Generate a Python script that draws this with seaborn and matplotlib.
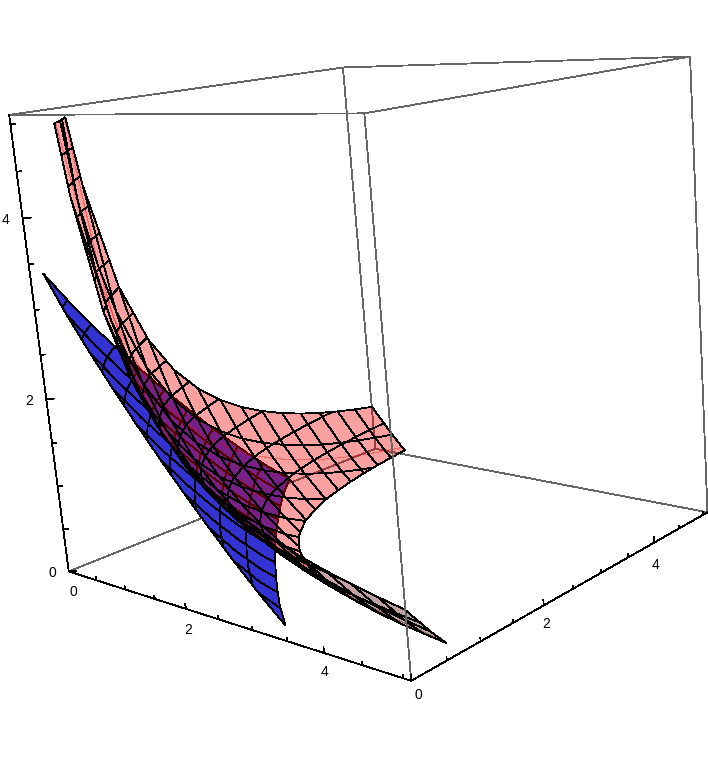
import numpy as np
import matplotlib
matplotlib.use("Agg")
import matplotlib.pyplot as plt
from mpl_toolkits.mplot3d import art3d
import seaborn as sns

sns.set_theme(style="white")
plt.rcParams['font.family'] = ['Liberation Sans', 'DejaVu Sans']

box_max = 5.1
tick_values = [0, 0.5, 1, 1.5, 2, 2.5, 3, 3.5, 4, 4.5, 5]
tick_labels = ['0', '2', '4']
mesh_levels = [0.1, 0.427, 0.753, 1.08, 1.41, 1.73, 2.06, 2.39, 2.71, 3.04, 3.37, 3.69, 4.02, 4.35, 4.67, 5.0]

# outer sheet (pink); negative entries lie under the floor and get cut off
pink_axis = [0.1, 0.427, 0.59, 0.753, 1.08, 1.41, 1.73, 2.06, 2.39, 2.71, 3.04, 3.37, 3.69, 4.02, 4.35, 4.67, 5.0]
pink_height = [
    [18.45, 6.94, 5.277, 4.25, 3.044, 2.357, 1.927, 1.618, 1.39, 1.22, 1.082, .969, .879, .80, .734, .678, .627],
    [6.94, 4.119, 3.39, 2.863, 2.149, 1.686, 1.373, 1.134, .951, .811, .693, .595, .516, .446, .386, .335, .288],
    [5.277, 3.39, 2.841, 2.424, 1.834, 1.434, 1.155, .938, .768, .637, .525, .432, .356, .288, .229, .18, .134],
    [4.25, 2.863, 2.424, 2.08, 1.575, 1.22, .965, .764, .605, .479, .372, .282, .207, .141, .083, .034, -.011],
    [3.044, 2.149, 1.834, 1.575, 1.173, .874, .652, .47, .322, .204, .101, .013, -.06, -.126, -.184, -.234, -.28],
    [2.357, 1.686, 1.434, 1.22, .874, .607, .402, .229, .087, -.029, -.132, -.22, -.295, -.362, -.423, -.475, -.523],
    [1.927, 1.373, 1.155, .965, .652, .402, .204, .036, -.106, -.223, -.327, -.418, -.495, -.566, -.629, -.684, -.736],
    [1.618, 1.134, .938, .764, .47, .229, .036, -.132, -.275, -.395, -.502, -.597, -.678, -.753, -.821, -.88, -.935],
    [1.39, .951, .768, .605, .322, .087, -.106, -.275, -.421, -.545, -.657, -.756, -.842, -.922, -.994, -1.057, -1.116],
    [1.22, .811, .637, .479, .204, -.029, -.223, -.395, -.545, -.672, -.789, -.894, -.984, -1.069, -1.146, -1.214, -1.278],
    [1.082, .693, .525, .372, .101, -.132, -.327, -.502, -.657, -.789, -.911, -1.02, -1.117, -1.207, -1.288, -1.362, -1.43],
    [.969, .595, .432, .282, .013, -.22, -.418, -.597, -.756, -.894, -1.02, -1.136, -1.238, -1.333, -1.42, -1.498, -1.571],
    [.879, .516, .356, .207, -.06, -.295, -.495, -.678, -.842, -.984, -1.117, -1.238, -1.344, -1.444, -1.536, -1.618, -1.697],
    [.80, .446, .288, .141, -.126, -.362, -.566, -.753, -.922, -1.069, -1.207, -1.333, -1.444, -1.55, -1.648, -1.734, -1.818],
    [.734, .386, .229, .083, -.184, -.423, -.629, -.821, -.994, -1.146, -1.288, -1.42, -1.536, -1.648, -1.749, -1.841, -1.93],
    [.678, .335, .18, .034, -.234, -.475, -.684, -.88, -1.057, -1.214, -1.362, -1.498, -1.618, -1.734, -1.841, -1.939, -2.032],
    [.627, .288, .134, -.011, -.28, -.523, -.736, -.935, -1.116, -1.278, -1.43, -1.571, -1.697, -1.818, -1.93, -2.032, -2.13],
]

# inner sheet (blue)
blue_axis = [0.1, 0.427, 0.753, 1.08, 1.41, 1.73, 2.06, 2.39, 2.71, 3.04, 3.37, 3.69]
blue_height = [
    [3.387, 2.964, 2.583, 2.223, 1.876, 1.553, 1.234, .927, .642, .365, .113, -.114],
    [2.964, 2.547, 2.172, 1.818, 1.480, 1.165, .856, .562, .294, .048, -.199, -.453],
    [2.583, 2.172, 1.803, 1.457, 1.126, .821, .524, .248, .014, -.245, -.509, -.763],
    [2.223, 1.818, 1.457, 1.118, .798, .504, .226, -.012, -.275, -.542, -.806, -1.06],
    [1.876, 1.480, 1.126, .798, .490, .214, -.028, -.302, -.565, -.832, -1.096, -1.35],
    [1.553, 1.165, .821, .504, .214, -.026, -.304, -.578, -.841, -1.108, -1.372, -1.626],
    [1.234, .856, .524, .226, -.028, -.304, -.582, -.856, -1.119, -1.386, -1.65, -1.904],
    [.927, .562, .248, -.012, -.302, -.578, -.856, -1.13, -1.393, -1.66, -1.924, -2.178],
    [.642, .294, .014, -.275, -.565, -.841, -1.119, -1.393, -1.656, -1.923, -2.187, -2.441],
    [.365, .048, -.245, -.542, -.832, -1.108, -1.386, -1.66, -1.923, -2.19, -2.454, -2.708],
    [.113, -.199, -.509, -.806, -1.096, -1.372, -1.65, -1.924, -2.187, -2.454, -2.718, -2.972],
    [-.114, -.453, -.763, -1.06, -1.35, -1.626, -1.904, -2.178, -2.441, -2.708, -2.972, -3.226],
]

z_floor = 0.1
z_ceil = 5.0


def clip_poly(pts, lo, hi):
    for bound, sign in ((lo, 1), (hi, -1)):
        out = []
        for k in range(len(pts)):
            a, b = pts[k], pts[(k + 1) % len(pts)]
            da, db = sign * (a[2] - bound), sign * (b[2] - bound)
            if da >= 0:
                out.append(a)
            if da * db < 0:
                out.append(a + (b - a) * da / (da - db))
        pts = out
        if not pts:
            return []
    return pts


def clip_seg(a, b, lo, hi):
    if max(a[2], b[2]) < lo or min(a[2], b[2]) > hi:
        return None
    t0, t1 = 0.0, 1.0
    if a[2] != b[2]:
        ta, tb = (lo - a[2]) / (b[2] - a[2]), (hi - a[2]) / (b[2] - a[2])
        t0, t1 = max(0.0, min(ta, tb)), min(1.0, max(ta, tb))
    return [a + (b - a) * t0, a + (b - a) * t1]


def sheet_cells(axis, table):
    axis = np.array(axis)
    table = np.array(table)
    cells = []
    for i in range(len(axis) - 1):
        for j in range(len(axis) - 1):
            quad = [np.array([axis[i + p], axis[j + q], table[i + p, j + q]])
                    for p, q in ((0, 0), (1, 0), (1, 1), (0, 1))]
            poly = clip_poly(quad, z_floor, z_ceil)
            if len(poly) >= 3:
                cells.append(np.array(poly))
    return cells


def sheet_mesh(axis, table, y_lines):
    # y_lines: the y values that get a mesh line
    axis = np.array(axis)
    table = np.array(table)
    segs = []
    for i in range(len(axis)):
        for j in range(len(axis) - 1):
            pairs = []
            if min(abs(axis[i] - v) for v in mesh_levels) < 1e-6:
                pairs.append(((i, j), (i, j + 1)))
            if min(abs(axis[i] - v) for v in y_lines) < 1e-6:
                pairs.append(((j, i), (j + 1, i)))
            for a, b in pairs:
                pa = np.array([axis[a[0]], axis[a[1]], table[a]])
                pb = np.array([axis[b[0]], axis[b[1]], table[b]])
                s = clip_seg(pa, pb, z_floor, z_ceil)
                if s is not None:
                    segs.append(s)
    return segs


def pink_colour(poly):
    n = np.cross(poly[2] - poly[0], poly[-1] - poly[1])
    n = np.abs(n) / (np.linalg.norm(n) + 1e-9)
    s = np.clip(0.25 + 3.0 * n[0] - 0.35 * n[1], 0, 1)
    return (0.94 * s, 0, 0, 0.37)


fig = plt.figure(figsize=(7.08, 7.71), dpi=100, facecolor='white')
ax = fig.add_axes([-33 / 708, 46 / 771, 787 / 708, 787 / 771], projection='3d', computed_zorder=False)
ax.set_box_aspect((1, 1, 1))
ax.set_proj_type('persp', focal_length=0.37)
ax.view_init(elev=12.3, azim=-46.4, roll=4.8)
ax.set_xlim(0, box_max)
ax.set_ylim(0, box_max)
ax.set_zlim(0, box_max)
ax.set_xticks([])
ax.set_yticks([])
ax.set_zticks([])
ax.set_autoscale_on(False)
ax.set_axis_off()

grey = '#666666'
m = box_max
lw = 0.6
back_edges = [([0, 0], [0, m], [0, 0]), ([0, m], [m, m], [0, 0]), ([0, 0], [m, m], [0, m])]
front_edges = [([m, m], [0, 0], [0, m]), ([m, m], [m, m], [0, m]),
               ([0, m], [0, 0], [m, m]), ([0, m], [m, m], [m, m]),
               ([0, 0], [0, m], [m, m]), ([m, m], [0, m], [m, m])]
axis_edges = [([0, m], [0, 0], [0, 0]), ([m, m], [0, m], [0, 0]), ([0, 0], [0, 0], [0, m])]

for xs, ys, zs in back_edges:
    ax.plot(xs, ys, zs, color=grey, lw=lw, zorder=1, antialiased=False)

# inner sheet first, the translucent one lies over it
blue = art3d.Poly3DCollection(sheet_cells(blue_axis, blue_height), facecolors=(0.2, 0.2, 0.83), edgecolors='none', antialiased=False, zorder=2)
ax.add_collection3d(blue, autolim=False)
ax.add_collection3d(art3d.Line3DCollection(sheet_mesh(blue_axis, blue_height, [0.1]), colors='black', linewidths=lw, antialiased=False, zorder=3), autolim=False)
bx, by = np.meshgrid(blue_axis, blue_axis)
ax.contour(bx, by, np.array(blue_height), levels=[v for v in mesh_levels if v < 3.38], colors='black', linewidths=lw, antialiased=False, zorder=3)

pink_cells = sheet_cells(pink_axis, pink_height)
pink = art3d.Poly3DCollection(pink_cells, facecolors=[pink_colour(c) for c in pink_cells], edgecolors='none', antialiased=False, zorder=4)
ax.add_collection3d(pink, autolim=False)
ax.add_collection3d(art3d.Line3DCollection(sheet_mesh(pink_axis, pink_height, mesh_levels), colors='black', linewidths=lw, antialiased=False, zorder=5), autolim=False)
px, py = np.meshgrid(pink_axis, pink_axis)
ax.contour(px, py, np.array(pink_height), levels=mesh_levels, colors='black', linewidths=lw, antialiased=False, zorder=5)

for xs, ys, zs in front_edges:
    ax.plot(xs, ys, zs, color=grey, lw=lw, zorder=6, antialiased=False)
for xs, ys, zs in axis_edges:
    ax.plot(xs, ys, zs, color='black', lw=lw, zorder=7, antialiased=False)

for t in tick_values:
    size = 0.06 if t % 2 == 0 else 0.035
    ax.plot([t, t], [0, 0], [0, size], color='black', lw=lw, zorder=7, antialiased=False)
    ax.plot([m, m], [t, t], [0, size], color='black', lw=lw, zorder=7, antialiased=False)
    ax.plot([0, size], [0, size], [t, t], color='black', lw=lw, zorder=7, antialiased=False)

x_label_lift = {'0': (0, -0.26), '2': (-0.03, -0.25), '4': (-0.05, -0.22)}
y_label_lift = {'0': (0.08, -0.17), '2': (0.02, -0.2), '4': (0, -0.26)}
for lab in tick_labels:
    t = float(lab)
    dx, dz = x_label_lift[lab]
    ax.text(t + dx, 0.03, dz, lab, ha='center', va='center', fontsize=10, color='black', zorder=8)
    dy, dz = y_label_lift[lab]
    ax.text(m, t + dy, dz, lab, ha='center', va='center', fontsize=10, color='black', zorder=8)
    ax.text(-0.13, -0.13, t, lab, ha='center', va='center', fontsize=10, color='black', zorder=8)

fig.savefig('out.png', dpi=100, facecolor='white')
